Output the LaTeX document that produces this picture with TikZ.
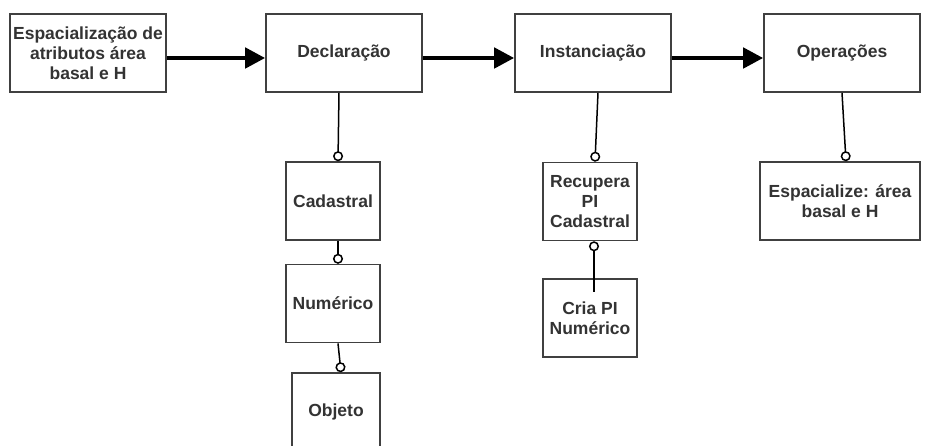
\documentclass[tikz,border=0pt]{standalone}
\usepackage{fontspec}
\setmainfont{Liberation Sans}
\usetikzlibrary{arrows.meta,positioning}

\tikzset{
  box/.style={draw=black!75, line width=1.6pt, minimum width=94pt, minimum height=78pt,
    align=center, inner sep=2pt, text=black!80, font=\fontsize{17.5}{20}\selectfont\bfseries},
  wide/.style={box, minimum width=156pt},
  flow/.style={-{Triangle[length=20pt,width=20pt]}, line width=4.5pt},
  ring/.style={-{Circle[open,length=10pt,width=10pt]}, line width=1.5pt},
  ringstart/.style={{Circle[open,length=10pt,width=10pt]}-, line width=1.5pt},
}

\begin{document}
\begin{tikzpicture}[x=1pt,y=-1pt]
\useasboundingbox[fill=white] (0,0) rectangle (930,446);

\node[wide] (espac) at (88,53) {Espacialização de\\atributos área\\basal e H};
\node[wide] (decl)  at (344,53) {Declaração};
\node[wide] (inst)  at (593,53) {Instanciação};
\node[wide] (oper)  at (842,53) {Operações};

\node[box] (cad) at (333,201) {Cadastral};
\node[box] (num) [below=23pt of cad] {Numérico};
\node[box, minimum width=88pt] (obj) at (336,412) {Objeto};
\node[box] (recup) at (590,201.5) {Recupera\\PI\\Cadastral};
\node[box] (cria) [below=37pt of recup] {Cria PI\\Numérico};
\node[box, minimum width=160pt] (espz) at (840,201) {Espacialize: área\\basal e H};

\path[flow] ([yshift=-5pt]espac.east) edge ([yshift=-5pt]decl.west)
            ([yshift=-5pt]decl.east)  edge ([yshift=-5pt]inst.west)
            ([yshift=-5pt]inst.east)  edge ([yshift=-5pt]oper.west);

\path[ring] ([xshift=-5pt]decl.south) edge ([xshift=5pt]cad.north)
            ([xshift=5pt]cad.south)   edge ([xshift=5pt]num.north)
            ([xshift=5pt]num.south)   edge ([xshift=5pt]obj.north)
            ([xshift=5pt]inst.south)  edge ([xshift=5pt]recup.north)
            (oper.south)              edge ([xshift=6pt]espz.north);
\path[ringstart] ([xshift=4pt]recup.south) edge ([xshift=4pt,yshift=-14pt]cria.north);

\end{tikzpicture}
\end{document}
